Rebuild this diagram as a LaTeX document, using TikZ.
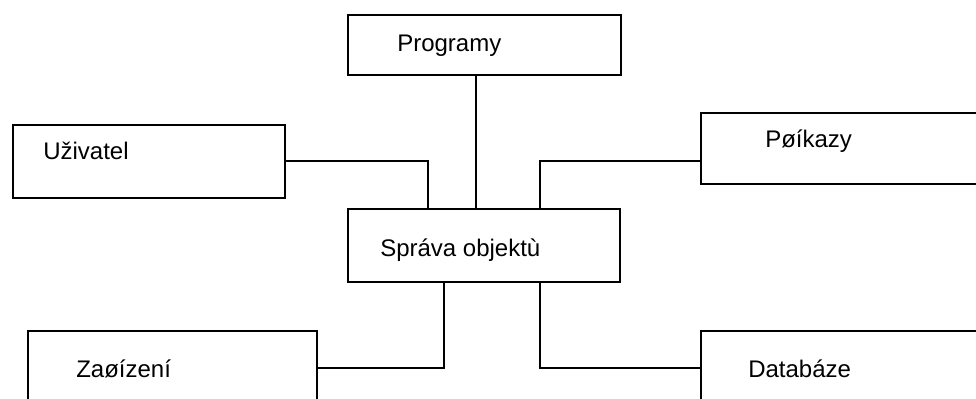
\documentclass[tikz,border=0pt]{standalone}
\usepackage{fontspec}
\setmainfont{Liberation Sans}
\usetikzlibrary{calc}
\tikzset{
  box/.style={draw, line width=1.3pt, rectangle, anchor=north west, inner sep=0pt},
  txt/.style={anchor=base west, inner sep=0pt, font=\fontsize{18}{21}\selectfont},
  link/.style={line width=1.3pt}
}
\begin{document}
\begin{tikzpicture}[x=0.75pt,y=-0.75pt]
	\useasboundingbox (0,0) rectangle (976,399);
	% boxes
	\node[box, minimum width=273*0.75pt, minimum height=60*0.75pt]  (prog)   at (347,14)  {};
	\node[box, minimum width=272*0.75pt, minimum height=73*0.75pt]  (uziv)   at (12,124)  {};
	\node[box, minimum width=300*0.75pt, minimum height=71*0.75pt]  (prik)   at (700,112) {};
	\node[box, minimum width=272*0.75pt, minimum height=73*0.75pt]  (sprava) at (347,208) {};
	\node[box, minimum width=289*0.75pt, minimum height=74*0.75pt]  (zariz)  at (27,330)  {};
	\node[box, minimum width=300*0.75pt, minimum height=74*0.75pt]  (datab)  at (700,330) {};
	% texts
	\node[txt] (tprog)   at (397,52)  {Programy};
	\node[txt] (tuziv)   at (43,160)  {Uživatel};
	\node[txt] (tprik)   at (765,148) {Pøíkazy};
	\node[txt] (tsprava) at (380,257) {Správa objektù};
	\node[txt] (tzariz)  at (76,378)  {Zaøízení};
	\node[txt] (tdatab)  at (748,378) {Databáze};
	% connectors
	\coordinate (s1) at ($(sprava.north west)+(81,0)$);
	\coordinate (s2) at ($(sprava.north west)+(129,0)$);
	\coordinate (s3) at ($(sprava.north west)+(193,0)$);
	\coordinate (s4) at ($(sprava.south west)+(97,0)$);
	\coordinate (s5) at ($(sprava.south west)+(193,0)$);
	\draw[link] (prog.south -| s2) -- (s2);
	\draw[link] (uziv.east) -| (s1);
	\draw[link] (prik.west |- uziv.east) -| (s3);
	\draw[link] (zariz.east) -| (s4);
	\draw[link] (datab.west) -| (s5);
\end{tikzpicture}
\end{document}
